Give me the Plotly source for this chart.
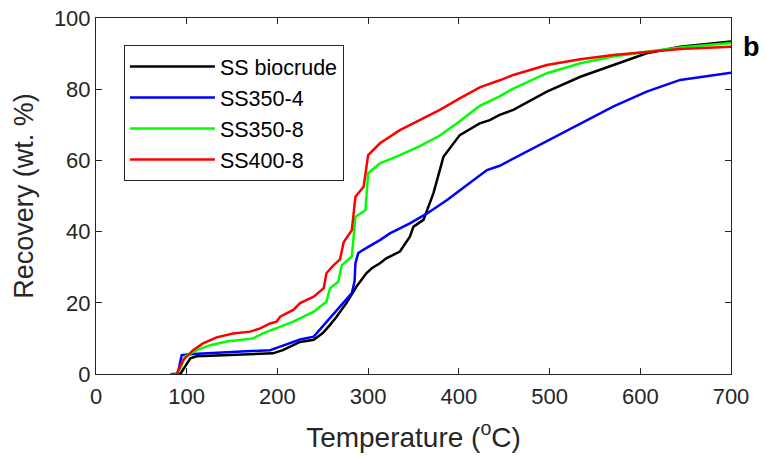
import plotly.graph_objects as go

# SS biocrude (black)
t_black = [90, 93, 98, 104, 111, 144, 181, 195, 206, 214, 225, 240, 250, 258, 265, 276, 287, 298, 304,
           313, 320, 335, 346, 350, 361, 372, 383, 401, 423, 434, 445, 460, 497, 534, 570, 607, 644, 700]
r_black = [0, 0, 2, 4.4, 5, 5.3, 5.6, 5.8, 6.7, 7.7, 9, 9.6, 11.5, 13.8, 16, 19.9, 24.5, 28.3, 29.7,
           31.1, 32.5, 34.4, 38.6, 41.4, 43.3, 50.8, 61, 67.1, 70.4, 71.3, 72.8, 74.2, 79.3, 83.5, 86.8, 90.1, 91.9, 93.4]

# SS350-4 (blue)
t_blue = [90, 94.5, 107, 144, 173, 192, 203, 214, 225, 240, 258, 273, 282, 285, 286, 289, 292, 302,
          313, 324, 335, 346, 365, 387, 409, 431, 445, 460, 497, 534, 570, 607, 644, 700]
r_blue = [0, 5.3, 5.6, 6, 6.3, 6.7, 7.7, 8.6, 9.7, 10.5, 15.6, 19.9, 22.7, 26, 31.1, 33.9, 34.5, 36,
          37.6, 39.5, 40.9, 42.3, 45.1, 48.9, 53.1, 57.3, 58.5, 60.5, 65.3, 70.4, 75.1, 79.3, 82.6, 84.6]

# SS350-8 (green)
t_green = [85, 88, 93, 98, 111, 126, 144, 162, 173, 184, 199, 210, 217.5, 240, 254, 258, 267, 271,
           282, 286, 297, 300, 313, 335, 357, 379, 401, 423, 445, 460, 497, 534, 570, 607, 644, 700]
r_green = [0, 0, 1.5, 4.9, 6.7, 8.1, 9.1, 9.6, 10, 11.4, 12.8, 13.8, 14.7, 17.5, 20.3, 24.1, 25.9, 30.6,
           33, 44.2, 46, 56.4, 59.2, 61.5, 64, 67, 71, 75.3, 78, 80.2, 84.5, 87.3, 89.2, 90.5, 91.7, 93]

# SS400-8 (red)
t_red = [82, 89, 96, 107, 118, 133, 151, 170, 181, 192, 199, 203, 210, 217.5, 225, 240, 251, 254,
         262, 269, 273, 280, 282, 286, 295, 300, 313, 335, 357, 379, 401, 423, 445, 460, 497, 534,
         570, 607, 644, 700]
r_red = [0, 0, 3.9, 6.7, 8.6, 10.3, 11.4, 11.9, 12.8, 14.2, 14.7, 16.1, 17, 18, 19.9, 21.7, 24.1, 28.3,
         30.6, 32.2, 37, 39.5, 40.4, 49.8, 52.6, 61.5, 64.8, 68.5, 71.3, 74.2, 77.4, 80.5, 82.5, 84,
         86.8, 88.4, 89.6, 90.5, 91.3, 91.9]

x_ticks = [0, 100, 200, 300, 400, 500, 600, 700]
y_ticks = [0, 20, 40, 60, 80, 100]

series = [
    ("SS biocrude", t_black, r_black, "#000000"),
    ("SS350-4", t_blue, r_blue, "#0000FF"),
    ("SS350-8", t_green, r_green, "#00FF00"),
    ("SS400-8", t_red, r_red, "#FF0000"),
]

FONT = "Arial, Liberation Sans, sans-serif"
AX = "#262626"

fig = go.Figure()
for name, t, r, c in series:
    fig.add_trace(go.Scatter(x=t, y=r, mode="lines", name=name,
                             line=dict(color=c, width=2.5)))

axis_common = dict(showline=True, linecolor=AX, linewidth=1, mirror="ticks",
                   ticks="inside", ticklen=6, tickcolor=AX, showgrid=False, zeroline=False,
                   automargin=False, ticklabeloverflow="allow",
                   tickfont=dict(family=FONT, size=22, color=AX))

fig.update_layout(
    width=766, height=466,
    margin=dict(l=96, r=35, t=18, b=92),
    plot_bgcolor="white", paper_bgcolor="white",
    xaxis=dict(range=[0, 700], tickvals=x_ticks, ticklabelstandoff=3,
               title=dict(text="Temperature (<sup>o</sup>C)", font=dict(family=FONT, size=28, color=AX),
                          standoff=18),
               **axis_common),
    yaxis=dict(range=[0, 100], tickvals=y_ticks,
               title=dict(text="Recovery (wt. %)", font=dict(family=FONT, size=27, color=AX),
                          standoff=12),
               **axis_common),
    legend=dict(x=0.044, y=0.924, xanchor="left", yanchor="top",
                bgcolor="white", bordercolor=AX, borderwidth=1,
                font=dict(family=FONT, size=21.5, color="#000000"),
                itemwidth=85, tracegroupgap=0),
    annotations=[dict(text="<b>b</b>", x=1.033, y=0.918, xref="paper", yref="paper",
                      xanchor="center", yanchor="middle",
                      showarrow=False, font=dict(family=FONT, size=27, color="#000000"))],
)

fig.write_html("out.html",
               config={"displayModeBar": False},
               post_script="document.body.style.margin='0';document.body.style.overflow='hidden';")
